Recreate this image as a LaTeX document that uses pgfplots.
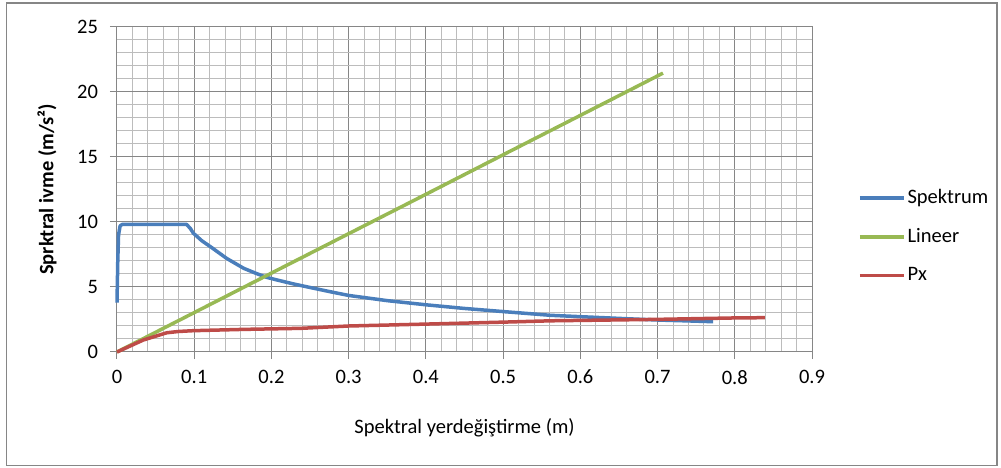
\documentclass[border=0pt]{standalone}
\usepackage{pgfplots}
\pgfplotsset{compat=1.18}
\usepackage{fontspec}
\setmainfont{Carlito}
\definecolor{spblue}{RGB}{74,126,187}
\definecolor{lngreen}{RGB}{152,185,84}
\definecolor{pxred}{RGB}{190,75,72}
\definecolor{majgrid}{RGB}{134,134,134}
\definecolor{mingrid}{RGB}{188,188,188}
\definecolor{frame}{RGB}{134,134,134}
\begin{document}
\fontsize{20.5}{24}\selectfont
\begin{tikzpicture}[x=1pt,y=1pt]
\begin{axis}[
  name=main,
  scale only axis, width=695pt, height=325pt,
  xmin=0, xmax=0.9, ymin=0, ymax=25,
  xtick={0,0.1,0.2,0.3,0.4,0.5,0.6,0.7,0.8,0.9},
  xticklabels={0,0.1,0.2,0.3,0.4,0.5,0.6,0.7,0.8,0.9},
  ytick={0,5,10,15,20,25},
  minor x tick num=4, minor y tick num=4,
  grid=both,
  major grid style={majgrid, line width=1pt},
  minor grid style={mingrid, line width=1pt},
  axis line style={majgrid, line width=1pt},
  tick pos=left, tick align=outside,
  major tick length=7pt, minor tick length=0pt,
  tick style={majgrid, line width=1pt},
  ticklabel style={font=\fontsize{20.5}{24}\selectfont},
  /pgf/number format/assume math mode=true,
  yticklabel style={xshift=-5pt},
  xticklabel style={yshift=-4pt},
  xlabel={Spektral yerdeğiştirme (m)},
  ylabel={\bfseries Sprktral ivme (m/s²)},
  xlabel style={at={(axis description cs:0.5,-0.234)}, anchor=center},
  ylabel style={at={(axis description cs:-0.1007,0.5)}, anchor=center},
  label style={font=\fontsize{20.5}{24}\selectfont},
  clip=false,
  legend style={at={(axis description cs:1.066,0.508)}, anchor=north west,
    draw=none, fill=none, inner sep=0pt, row sep=18pt,
    font=\fontsize{20.5}{24}\selectfont, nodes={inner sep=2pt}},
  legend cell align=left,
  legend image code/.code={\draw[#1, line width=3.5pt] (0pt,0pt) -- (44pt,0pt);},
]
% capacity spectrum
\addplot[spblue, line width=3.5pt, line join=round] coordinates {
 (0.000,3.8) (0.001,7.0) (0.002,9.0) (0.004,9.7) (0.007,9.82)
 (0.090,9.82) (0.095,9.5) (0.099,9.13) (0.110,8.55) (0.121,8.1)
 (0.142,7.2) (0.164,6.44) (0.180,6.05) (0.194,5.74) (0.210,5.5)
 (0.229,5.23) (0.251,4.95) (0.275,4.65) (0.300,4.35) (0.350,3.95)
 (0.402,3.62) (0.450,3.35) (0.502,3.1) (0.562,2.82) (0.614,2.68)
 (0.660,2.56) (0.700,2.46) (0.740,2.39) (0.772,2.33)
};
\addlegendentry{Spektrum}
% linear response
\addplot[lngreen, line width=3.5pt] coordinates {
 (0.000,0.00) (0.100,3.03) (0.200,6.07) (0.300,9.10) (0.400,12.13)
 (0.500,15.17) (0.600,18.20) (0.707,21.45)
};
\addlegendentry{Lineer}
% pushover curve
\addplot[pxred, line width=3.5pt, line join=round] coordinates {
 (0.000,0.00) (0.034,0.92) (0.0645,1.48) (0.080,1.58) (0.099,1.64)
 (0.164,1.74) (0.238,1.82) (0.300,2.00) (0.402,2.15) (0.502,2.30)
 (0.562,2.40) (0.700,2.51) (0.800,2.62) (0.839,2.64)
};
\addlegendentry{Px}
\end{axis}
% page and chart frame, placed from the plot box corner
\pgfresetboundingbox
\begin{scope}[shift={(main.south west)}]
  \useasboundingbox (-117,-116) rectangle (884,352);
  \draw[frame, line width=1.3pt] (-110.5,-113.5) rectangle (880,349);
\end{scope}
\end{tikzpicture}
\end{document}
